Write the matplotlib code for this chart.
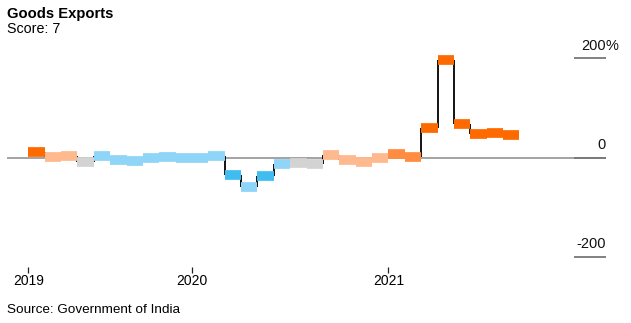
import numpy as np
import matplotlib
matplotlib.use("Agg")
import matplotlib.pyplot as plt

plt.rcParams["font.family"] = ["Liberation Sans", "DejaVu Sans"]

# monthly goods exports, % change year on year (Mar 2019 .. Aug 2021)
months = ["2019-03", "2019-04", "2019-05", "2019-06", "2019-07", "2019-08",
          "2019-09", "2019-10", "2019-11", "2019-12", "2020-01", "2020-02",
          "2020-03", "2020-04", "2020-05", "2020-06", "2020-07", "2020-08",
          "2020-09", "2020-10", "2020-11", "2020-12", "2021-01", "2021-02",
          "2021-03", "2021-04", "2021-05", "2021-06", "2021-07", "2021-08"]
growth = [11.0, 0.6, 3.9, -9.7, 2.2, -6.0, -6.6, -1.1, 0.3, -1.8, -1.7, 2.9,
          -34.6, -60.3, -36.5, -12.4, -10.2, -12.7, 6.0, -5.1, -8.7, -0.8,
          6.2, 0.7, 60.3, 195.7, 67.4, 48.3, 49.8, 45.8]
# heat category of each month
levels = ["hot", "warm", "warm", "neutral", "cool", "cool", "cool", "cool",
          "cool", "cool", "cool", "cool", "cold", "cool", "cold", "cool",
          "neutral", "neutral", "warm", "warm", "warm", "warm", "warmer",
          "warmer", "hot", "hot", "hot", "hot", "hot", "hot"]
year_labels = ["2019", "2020", "2021"]
year_ticks = ["2019-03", "2020-01", "2021-01"]
y_ticks = [200, 0, -200]

palette = {"hot": "#ff6a00", "warmer": "#ff8c40", "warm": "#ffb98e",
           "neutral": "#d3d3d3", "cool": "#8fd5f7", "cold": "#40bdf0"}

x = np.arange(len(growth))
vals = np.array(growth)

W, H = 631, 323
fig = plt.figure(figsize=(W / 100, H / 100), dpi=100)
left, right, top, bottom = 7, 606, 40, 267
ax = fig.add_axes([left / W, 1 - bottom / H, (right - left) / W, (bottom - top) / H])

px_month = 16.37
x0 = 28.3
ax.set_xlim((left - x0) / px_month, (right - x0) / px_month)
zero_px, px_unit = 157.5, 0.496
ax.set_ylim((zero_px - bottom) / px_unit, (zero_px - top) / px_unit)
seg_start = (574 - x0) / px_month

# zero line and the short right-hand gridline stubs
ax.axhline(0, color="#8a8a8a", lw=1.1, zorder=1)
ax.hlines(y_ticks, seg_start, ax.get_xlim()[1], color="#777777", lw=1.3, zorder=1)
for v in y_ticks:
    ax.annotate(f"{v}", (ax.get_xlim()[1], v), xytext=(0, 4), textcoords="offset points",
                ha="right", va="bottom", fontsize=10.5, color="#111111")
ax.annotate("%", (ax.get_xlim()[1], 200), xytext=(0, 4), textcoords="offset points",
            ha="left", va="bottom", fontsize=10.5, color="#111111")

# black risers between months, then the coloured monthly blocks on top
ax.vlines(x[1:], vals[:-1], vals[1:], color="black", lw=1.3, zorder=2)
ax.hlines(vals, x, x + 1, colors=[palette[l] for l in levels], lw=7,
          capstyle="butt", zorder=3)

ax.set_xticks([months.index(m) for m in year_ticks])
ax.set_xticklabels(year_labels, fontsize=10)
ax.tick_params(axis="x", length=4, width=0.9, color="#222222", pad=1)
ax.set_yticks([])
for s in ax.spines.values():
    s.set_visible(False)

fig.text(7 / W, 1 - 14 / H, "Goods Exports", fontsize=10.6, fontweight="bold",
         ha="left", va="center")
fig.text(7 / W, 1 - 29 / H, "Score: 7", fontsize=10.3, ha="left", va="center")
fig.text(7 / W, 1 - 310 / H, "Source: Government of India", fontsize=9.7,
         ha="left", va="center")

fig.savefig("out.png", dpi=100)
